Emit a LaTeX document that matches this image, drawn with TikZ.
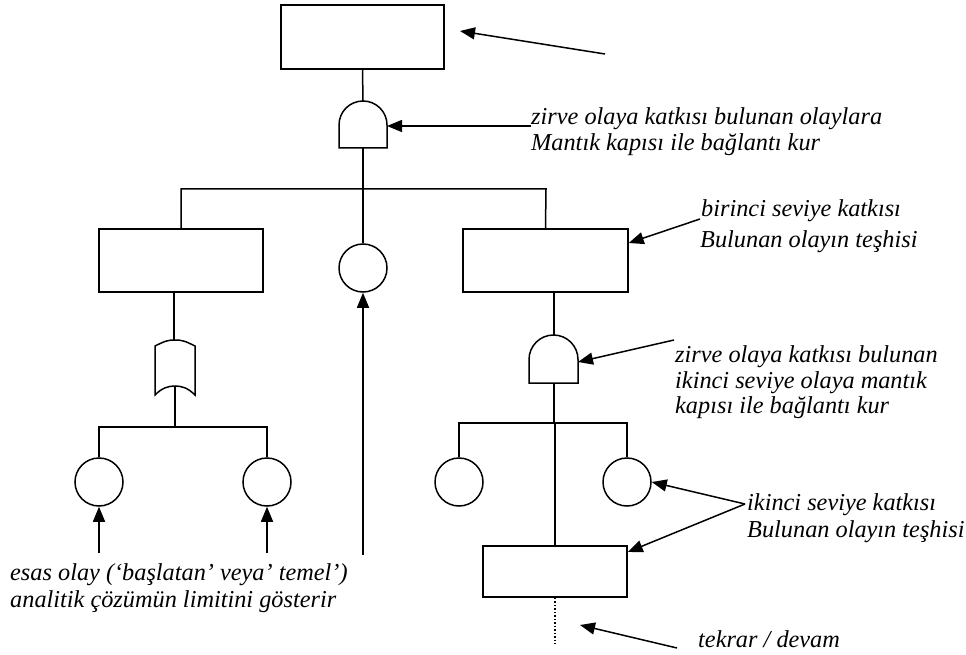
\documentclass[tikz,border=0pt]{standalone}
\usepackage{fontspec}
\setmainfont{Liberation Serif}
\usetikzlibrary{arrows.meta}

\tikzset{
  ln/.style={line width=1.5pt, line join=miter},
  thickln/.style={line width=2.6pt},
  evbox/.style={draw, ln, rectangle, inner sep=0pt},
  basic/.style={draw, ln, circle, minimum size=48pt, inner sep=0pt},
  lbl/.style={inner sep=0pt, anchor=base west, font=\fontsize{24.3}{28}\selectfont\itshape},
  arr/.style={ln, -{Triangle[length=15pt,width=12pt]}},
  gate/.style={ln, fill=white}
}

\begin{document}
\begin{tikzpicture}[x=1pt,y=-1pt]
\useasboundingbox (0,0) rectangle (966,655);

% ---- events ----
\node[evbox, minimum width=163pt, minimum height=64pt] (top) at (362.5,37) {};
\node[evbox, minimum width=164pt, minimum height=63pt] (L1) at (181,260.5) {};
\node[basic] (M1) at (363,268) {};
\node[evbox, minimum width=165pt, minimum height=63pt] (R1) at (545.5,260.5) {};
\node[basic] (LL) at (99,482) {};
\node[basic] (LR) at (267,482) {};
\node[basic] (RL) at (459,482) {};
\node[basic] (RR) at (627,482) {};
\node[evbox, minimum width=144pt, minimum height=51pt] (R2) at (555,571.5) {};

% ---- gate anchor points ----
\coordinate (g1t) at (363,101);
\coordinate (g1b) at (363,148);
\coordinate (g1e) at (387,126);
\coordinate (orT) at (174,340);
\coordinate (orB) at (175,386);
\coordinate (g2t) at (554,335);
\coordinate (g2b) at (554,383);
\coordinate (g2e) at (578,362);

% ---- bus bars ----
\coordinate (b1) at (363,189);
\coordinate (b1L) at (181,189);
\coordinate (b1R) at (546,189);
\coordinate (b2) at (175,427);
\coordinate (b2L) at (99,427);
\coordinate (b2R) at (267,427);
\coordinate (b3) at (554,423);
\coordinate (b3L) at (459,423);
\coordinate (b3R) at (627,423);

% ---- tree connections ----
\draw[ln] (top.south) -- (g1t);
\draw[thickln] (g1b) -- (b1);
\draw[ln] (b1) -- (M1.north);
\draw[ln] (L1.north) |- (b1L) -- (b1R) -- (R1.north);

\draw[ln] (L1.south -| orT) -- (orT);
\draw[ln] (orB) -- (b2);
\draw[ln] (LL.north) -- (b2L) -- (b2R) -- (LR.north);

\draw[ln] (R1.south -| g2t) -- (g2t);
\draw[thickln] (g2b) -- (b3);
\draw[ln] (RL.north) -- (b3L) -- (b3R) -- (RR.north);
\draw[ln] (b3 -| R2.north) -- (R2.north);
\draw[ln, dotted] (R2.south) -- ++(0,46) coordinate (cont);

% ---- AND gates ----
\draw[gate] (339,148) -- (339,125)
  .. controls (339,111.7) and (349.7,101) .. (363,101)
  .. controls (376.3,101) and (387,111.7) .. (387,125) -- (387,148) -- cycle;
\draw[gate] (529,383) -- (529,359.5)
  .. controls (529,346) and (540,335) .. (553.5,335)
  .. controls (567,335) and (578,346) .. (578,359.5) -- (578,383) -- cycle;

% ---- OR gate ----
\draw[gate] (155,346) .. controls (165,341) and (168,340) .. (175,340)
  .. controls (182,340) and (185,341) .. (195,346) -- (195,395)
  .. controls (188,388) and (182,386) .. (175,386)
  .. controls (168,386) and (162,388) .. (155,395) -- cycle;

% ---- annotation arrows ----
\coordinate (a0) at (605,54);
\coordinate (a0t) at (460,31);
\draw[arr] (a0) -- (a0t);

\coordinate (a1) at (531,126);
\draw[arr] (a1) -- (g1e);

\coordinate (a2) at (700,219);
\draw[arr] (a2) -- (R1.east |- 0,243);

\coordinate (a3) at (674,340);
\draw[arr] (a3) -- (g2e);

\coordinate (a4) at (745,504);
\draw[arr] (a4) -- (RR.east);
\draw[arr] (a4) -- (R2.east |- 0,552);

\coordinate (a5) at (677,648);
\coordinate (a5t) at (580,625);
\draw[arr] (a5) -- (a5t);

\coordinate (m0) at (363,555);
\draw[arr] (m0) -- (M1.south);
\coordinate (l0) at (99,553);
\draw[arr] (l0) -- (LL.south);
\coordinate (r0) at (267,553);
\draw[arr] (r0) -- (LR.south);

% ---- labels ----
\node[lbl] (t1a) at (531,125) {zirve olaya katkısı bulunan olaylara};
\node[lbl] (t1b) at (531,151) {Mantık kapısı ile bağlantı kur};
\node[lbl] (t2a) at (701,217) {birinci seviye katkısı};
\node[lbl] (t2b) at (700,247) {Bulunan olayın teşhisi};
\node[lbl] (t3a) at (675,362) {zirve olaya katkısı bulunan};
\node[lbl] (t3b) at (675,388) {ikinci seviye olaya mantık};
\node[lbl] (t3c) at (675,413) {kapısı ile bağlantı kur};
\node[lbl] (t4a) at (747,510) {ikinci seviye katkısı};
\node[lbl] (t4b) at (747,537) {Bulunan olayın teşhisi};
\node[lbl] (t5) at (698,647) {tekrar / devam};
\node[lbl] (t6a) at (10,580) {esas olay (‘başlatan’ veya’ temel’)};
\node[lbl] (t6b) at (10,607) {analitik çözümün limitini gösterir};
\end{tikzpicture}
\end{document}
